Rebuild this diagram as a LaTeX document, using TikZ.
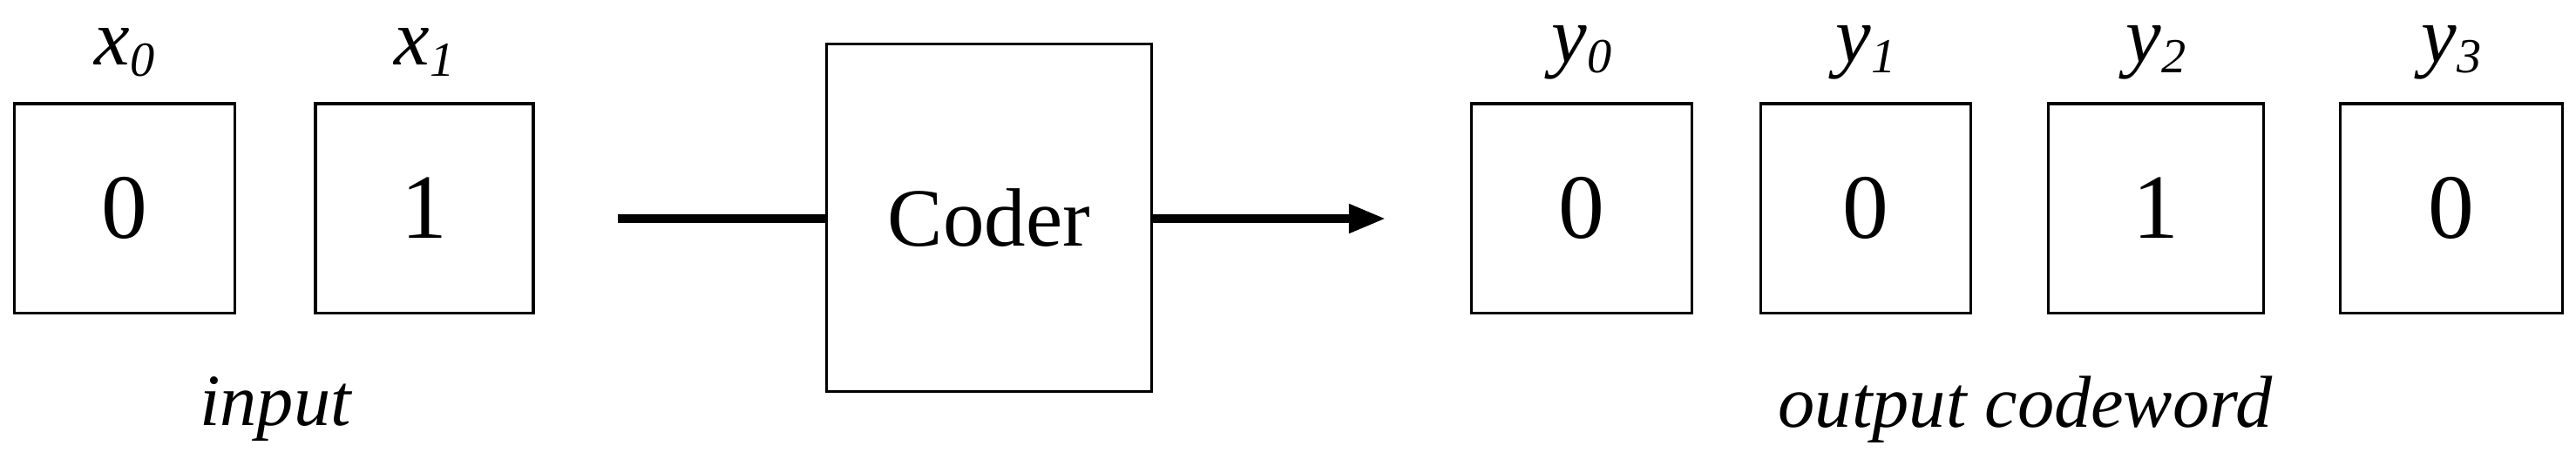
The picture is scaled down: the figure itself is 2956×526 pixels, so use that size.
\documentclass[tikz,border=0pt]{standalone}
\usepackage{fontspec}
\setmainfont{Liberation Serif}
\newfontfamily\tms{Liberation Serif}
\usetikzlibrary{arrows.meta}
\newcommand{\sbs}[1]{\raisebox{-0.3ex}{\fontsize{16}{16}\selectfont #1}}
\begin{document}
\begin{tikzpicture}[x=0.01cm,y=-0.01cm,
  cell/.style={draw,line width=0.9pt,inner sep=0pt,minimum height=2.4cm,font=\tms\fontsize{30}{30}\selectfont},
  lbl/.style={font=\tms\fontsize{26}{26}\selectfont\itshape},
  conn/.style={line width=2.6pt}]
\useasboundingbox (0,0) rectangle (2956,526);
\node[cell,minimum width=2.53cm] (a0) at (143,239) {0};
\node[cell,minimum width=2.50cm] (a1) at (487,239) {1};
\node[cell,minimum width=3.72cm,minimum height=3.98cm,font=\tms\fontsize{27}{27}\selectfont] (c) at (1135,250) {Coder};
\node[cell,minimum width=2.53cm] (b0) at (1815,239) {0};
\node[cell,minimum width=2.41cm] (b1) at (2141,239) {0};
\node[cell,minimum width=2.47cm] (b2) at (2474,239) {1};
\node[cell,minimum width=2.55cm] (b3) at (2813,239) {0};
\node[lbl] (l0) at (143,60) {x\sbs{0}};
\node[lbl] (l1) at (487,60) {x\sbs{1}};
\node[lbl] (m0) at (1815,60) {y\sbs{0}};
\node[lbl] (m1) at (2141,60) {y\sbs{1}};
\node[lbl] (m2) at (2474,60) {y\sbs{2}};
\node[lbl] (m3) at (2813,60) {y\sbs{3}};
\node[lbl,font=\tms\fontsize{24}{24}\selectfont\itshape] (in) at (316,470) {input};
\node[lbl,font=\tms\fontsize{24}{24}\selectfont\itshape] (out) at (2324,470) {output codeword};
\coordinate (s) at (709,251);
\coordinate (e) at (1590,251);
\draw[conn] (s) -- (c.west |- s);
\draw[conn,-{Triangle[length=12pt,width=9pt]}] (c.east |- e) -- (e);
\end{tikzpicture}
\end{document}
